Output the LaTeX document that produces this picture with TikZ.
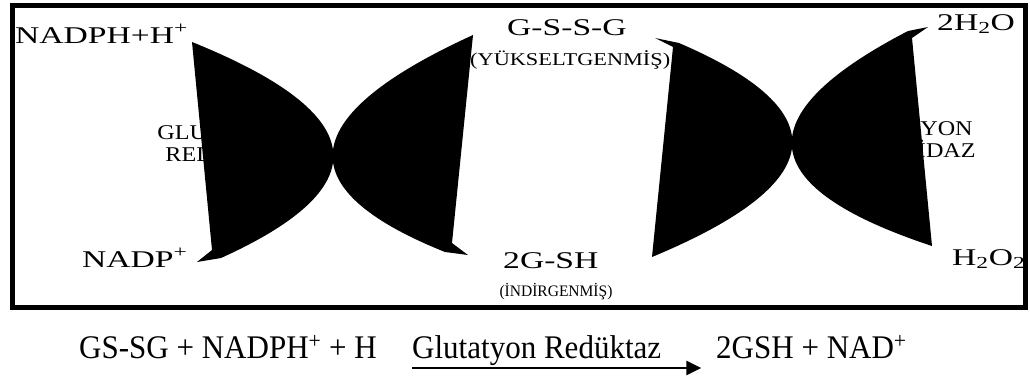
\documentclass[tikz,border=0pt]{standalone}
\usepackage{fontspec}
\setmainfont{Liberation Serif}
\usetikzlibrary{calc,arrows.meta}
\tikzset{
  blob/.style={fill=black, draw=none},
  lbl/.style={font=\fontsize{24}{26}\selectfont, inner sep=0pt, anchor=base west},
  smalllbl/.style={font=\fontsize{18}{20}\selectfont, inner sep=0pt, anchor=base west},
  tinylbl/.style={font=\fontsize{16}{17}\selectfont, inner sep=0pt, anchor=base},
  enz/.style={font=\fontsize{21}{22}\selectfont, inner sep=0pt, anchor=base},
  eq/.style={font=\fontsize{33}{35}\selectfont, inner sep=0pt, anchor=base west},
  frame/.style={line width=5pt, draw=black},
}
\newcommand{\strbig}[1]{\scalebox{1.4}[1]{#1}}
\newcommand{\strsmall}[1]{\scalebox{1.24}[1]{#1}}
\newcommand{\strtiny}[1]{\scalebox{0.97}[1]{#1}}
\newcommand{\strenz}[1]{\scalebox{1.15}[1]{#1}}
\newcommand{\squeeze}[1]{\scalebox{0.94}[1]{#1}}
\begin{document}
\begin{tikzpicture}[x=1pt,y=-1pt]
\useasboundingbox (0,0) rectangle (1030,378);
\fill[white] (0,0) rectangle (1030,378);

% enzyme labels (partly hidden by the arrows)
\node[enz] (gr1) at (229.5,139) {\strenz{GLUTATYON}};
\node[enz] (gr2) at (229.5,161) {\strenz{REDÜKTAZ}};
\node[enz] (gp1) at (900.5,135) {\strenz{GLUTATYON}};
\node[enz] (gp2) at (900.5,157) {\strenz{PEROKSİDAZ}};

% substance labels
\node[lbl] (nadph) at (15,43) {\strbig{NADPH+H\textsuperscript{+}}};
\node[lbl] (nadp) at (82,267) {\strbig{NADP\textsuperscript{+}}};
\node[lbl] (gssg) at (507,35) {\strbig{G-S-S-G}};
\node[smalllbl] (oks) at (470,65) {\strsmall{(YÜKSELTGENMİŞ)}};
\node[lbl] (gsh) at (503,268) {\strbig{2G-SH}};
\node[tinylbl] (ind) at (556,296) {\strtiny{(İNDİRGENMİŞ)}};
\node[lbl] (water) at (937,30) {\strbig{2H\textsubscript{2}O}};
\node[lbl] (hp) at (952,265) {\strbig{H\textsubscript{2}O\textsubscript{2}}};

% curved block arrows
\coordinate (p1) at (192,42); \coordinate (a1) at (212,250); \coordinate (t1) at (197,262);
\coordinate (b1) at (221,258); \coordinate (c1) at (459.5,150);
\fill[blob] (p1) -- (a1) -- (t1) -- (b1) .. controls ($(b1)!0.6667!(c1)$) and ($(p1)!0.6667!(c1)$) .. (p1) -- cycle;

\coordinate (p2) at (473,35); \coordinate (a2) at (452,243); \coordinate (t2) at (468,255);
\coordinate (b2) at (445,252); \coordinate (c2) at (207,156.5);
\fill[blob] (p2) -- (a2) -- (t2) -- (b2) .. controls ($(b2)!0.6667!(c2)$) and ($(p2)!0.6667!(c2)$) .. (p2) -- cycle;

\coordinate (p3) at (652,257); \coordinate (a3) at (673,47); \coordinate (t3) at (655,38);
\coordinate (b3) at (679,43); \coordinate (c3) at (918.5,146);
\fill[blob] (p3) -- (a3) -- (t3) -- (b3) .. controls ($(b3)!0.6667!(c3)$) and ($(p3)!0.6667!(c3)$) .. (p3) -- cycle;

\coordinate (p4) at (932,246); \coordinate (a4) at (912,38); \coordinate (t4) at (928,27);
\coordinate (b4) at (908,31); \coordinate (c4) at (664,157.5);
\fill[blob] (p4) -- (a4) -- (t4) -- (b4) .. controls ($(b4)!0.6667!(c4)$) and ($(p4)!0.6667!(c4)$) .. (p4) -- cycle;

% frame
\draw[frame] (12.5,5) rectangle (1025.5,307);

% equation
\node[eq] (lhs) at (79,358) {\squeeze{GS-SG + NADPH\textsuperscript{+} + H}};
\node[eq] (enzname) at (412,358) {\squeeze{Glutatyon Redüktaz}};
\coordinate (arrs) at ($(enzname.base west)+(0,10)$);
\coordinate (arre) at ($(enzname.base east)+(40,10)$);
\draw[line width=2.5pt, -{Triangle[length=15pt,width=14pt]}] (arrs) -- (arre);
\node[eq] (rhs) at (716,358) {\squeeze{2GSH + NAD\textsuperscript{+}}};
\end{tikzpicture}
\end{document}
